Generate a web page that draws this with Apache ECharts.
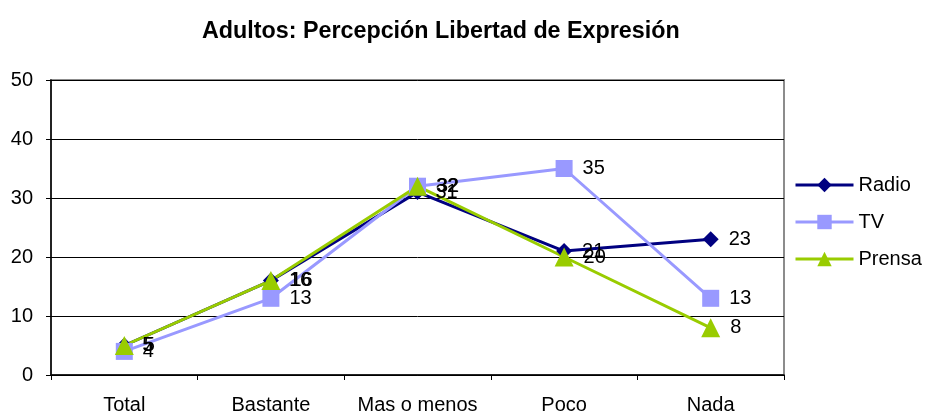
<!DOCTYPE html>
<html style="height: 100%">
<head>
<meta charset="utf-8">
</head>
<body style="height: 100%; margin: 0; background: #fff">
<div id="container" style="width: 926px; height: 415px"></div>
<script type="text/javascript" src="https://cdn.jsdelivr.net/npm/echarts@6/dist/echarts.min.js"></script>
<script type="text/javascript">
var categories = ['Total', 'Bastante', 'Mas o menos', 'Poco', 'Nada'];
var radio = [5, 16, 31, 21, 23];
var tv = [4, 13, 32, 35, 13];
var prensa = [5, 16, 32, 20, 8];

var dom = document.getElementById('container');
var myChart = echarts.init(dom);
var font = 'Liberation Sans, Arial, sans-serif';

function lineSeries(name, data, color, symbol, size) {
    return {
        name: name,
        type: 'line',
        data: data,
        symbol: symbol,
        symbolSize: size,
        lineStyle: { color: color, width: 3 },
        itemStyle: { color: color },
        label: {
            show: true,
            position: 'right',
            distance: 10,
            color: '#000',
            fontFamily: font,
            fontSize: 20
        },
        animation: false
    };
}

var option = {
    backgroundColor: '#fff',
    title: {
        text: 'Adultos: Percepción Libertad de Expresión',
        left: 197,
        top: 15,
        textStyle: { fontFamily: font, fontSize: 23.3, fontWeight: 'bold', color: '#000' }
    },
    legend: {
        orient: 'vertical',
        left: 789,
        top: 170,
        itemWidth: 58,
        itemHeight: 18,
        itemGap: 17,
        lineStyle: { width: 3 },
        textStyle: { fontFamily: font, fontSize: 20, color: '#000' },
        data: ['Radio', 'TV', 'Prensa']
    },
    grid: {
        left: 51, right: 142, top: 80, bottom: 40,
        show: true,
        borderColor: '#8c8c8c',
        borderWidth: 2
    },
    xAxis: {
        type: 'category',
        data: categories,
        boundaryGap: true,
        axisLine: { lineStyle: { color: '#000', width: 1.5 } },
        axisTick: { show: true, interval: 0, length: 5, lineStyle: { color: '#000' } },
        axisLabel: { interval: 0, color: '#000', fontFamily: font, fontSize: 20, margin: 20 }
    },
    yAxis: {
        type: 'value',
        min: 0,
        max: 50,
        interval: 10,
        axisLine: { show: true, lineStyle: { color: '#000', width: 1.5 } },
        axisTick: { show: true, length: 5, lineStyle: { color: '#000' } },
        axisLabel: { color: '#000', fontFamily: font, fontSize: 20, margin: 18 },
        splitLine: { lineStyle: { color: '#000', width: 1 } }
    },
    series: [
        lineSeries('Radio', radio, '#000080', 'diamond', 16),
        lineSeries('TV', tv, '#9999ff', 'rect', 17),
        lineSeries('Prensa', prensa, '#99cc00', 'triangle', 19)
    ]
};

myChart.setOption(option);
</script>
</body>
</html>
